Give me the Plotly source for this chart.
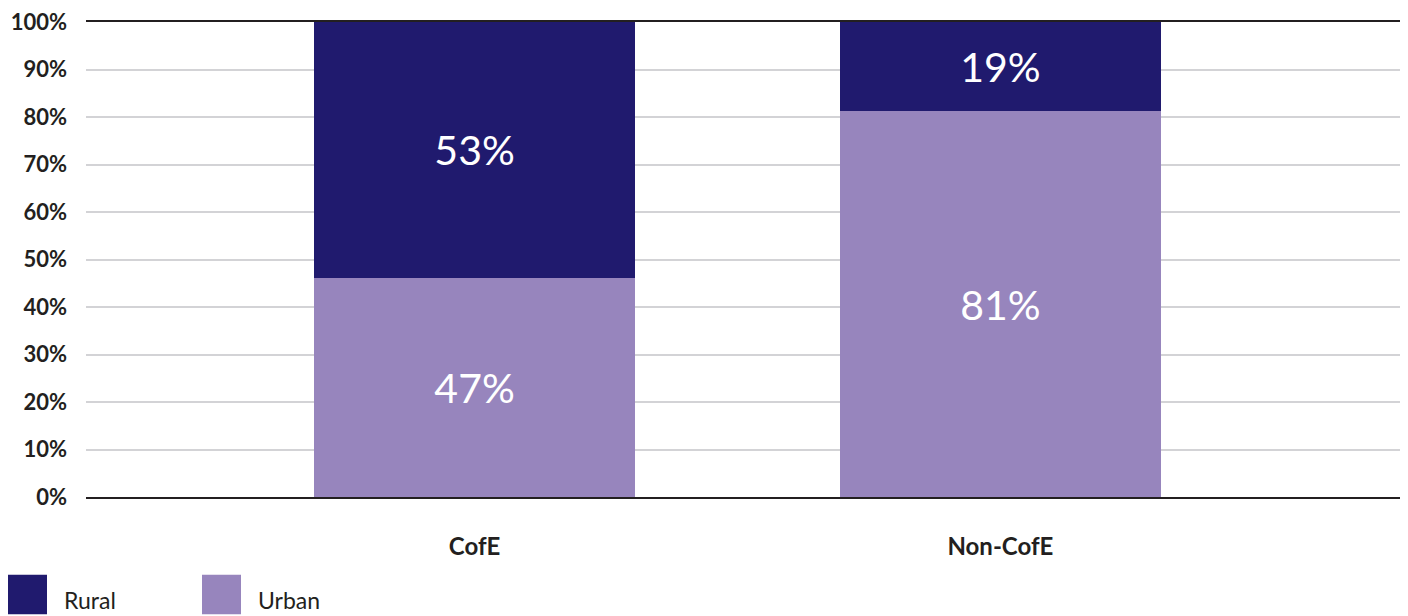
import plotly.graph_objects as go

categories = ["CofE", "Non-CofE"]
urban = [46.2, 81.2]
rural = [53.8, 18.8]
urban_labels = ["47%", "81%"]
rural_labels = ["53%", "19%"]
tick_vals = [0, 10, 20, 30, 40, 50, 60, 70, 80, 90, 100]
tick_text = ["0%", "10%", "20%", "30%", "40%", "50%", "60%", "70%", "80%", "90%", "100%"]

RURAL_C = "#201A6E"
URBAN_C = "#9785BD"
FONT = "Lato"

fig = go.Figure()
fig.add_trace(go.Bar(x=categories, y=urban, name="Urban", marker_color=URBAN_C,
                     text=urban_labels, textposition="inside", insidetextanchor="middle",
                     textangle=0, textfont=dict(size=41, color="white", family=FONT),
                     width=0.61, marker_line_width=0, showlegend=False))
fig.add_trace(go.Bar(x=categories, y=rural, name="Rural", marker_color=RURAL_C,
                     text=rural_labels, textposition="inside", insidetextanchor="middle",
                     textangle=0, textfont=dict(size=41, color="white", family=FONT),
                     width=0.61, marker_line_width=0, showlegend=False))

fig.update_layout(
    barmode="stack",
    width=1408, height=616,
    margin=dict(l=86, r=8, t=15, b=119),
    plot_bgcolor="white", paper_bgcolor="white",
    font=dict(family=FONT, color="#231F20"),
)
fig.update_xaxes(range=[-0.739, 1.760], showline=True, mirror=True, linecolor="#231F20",
                 linewidth=2, showgrid=False, ticks="", ticklabelstandoff=27,
                 tickfont=dict(size=24, family=FONT, color="#231F20", weight="bold"))
fig.update_yaxes(range=[0, 100], tickvals=tick_vals, ticktext=tick_text, showgrid=True,
                 gridcolor="#D3D3D6", gridwidth=2, zeroline=False, showline=False,
                 ticks="", ticklabelstandoff=18,
                 tickfont=dict(size=22, family=FONT, color="#231F20", weight="bold"))

# Legend drawn manually
PH = 482
legend_items = [("Rural", RURAL_C, 8), ("Urban", URBAN_C, 202)]
for name, col, x0 in legend_items:
    fig.add_shape(type="rect", xref="paper", yref="paper",
                  x0=(x0 - 86) / 1314, x1=(x0 + 39 - 86) / 1314,
                  y0=(497 - 616) / PH, y1=(497 - 576) / PH,
                  fillcolor=col, line_width=0, layer="above")
    fig.add_annotation(xref="paper", yref="paper", x=(x0 + 54 - 86) / 1314,
                       y=(497 - 602) / PH, text=name, showarrow=False,
                       xanchor="left", yanchor="middle",
                       font=dict(size=23, family=FONT, color="#231F20"))

fig.write_html("out.html", config={"displayModeBar": False},
               post_script="document.body.style.margin='0';document.body.style.padding='0';document.body.style.overflow='hidden';")
